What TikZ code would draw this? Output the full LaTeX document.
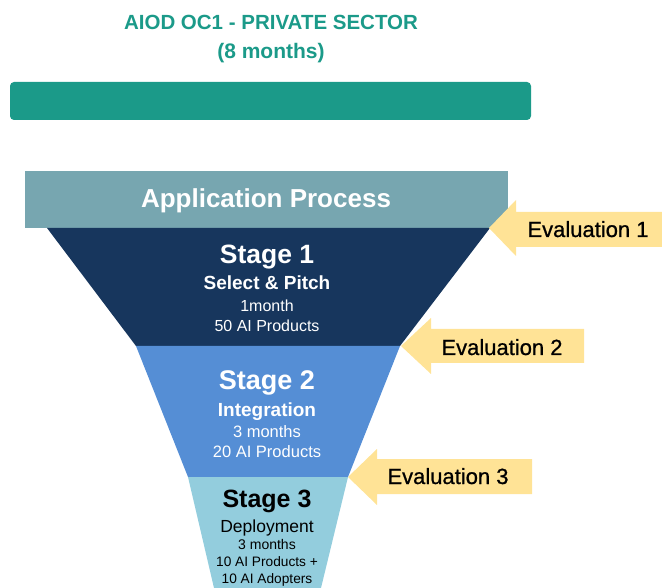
\documentclass[tikz,border=0pt]{standalone}
\usepackage{fontspec}
\setmainfont{Liberation Sans}
\newfontfamily\evalfont[FakeBold=0.8]{Liberation Sans}
\definecolor{teal1}{HTML}{1B9A89}
\definecolor{appc}{HTML}{77A6B0}
\definecolor{st1}{HTML}{17365D}
\definecolor{st2}{HTML}{558ED5}
\definecolor{st3}{HTML}{93CDDD}
\definecolor{yel}{HTML}{FFE396}
\newcommand{\fs}[1]{\fontsize{#1}{#1}\selectfont}
\begin{document}
\begin{tikzpicture}[x=1pt,y=-1pt,
  txt/.style={inner sep=0pt,anchor=base},
  wt/.style={txt,text=white},
  bk/.style={txt,text=black},
  evtxt/.style={txt,text=black,font=\evalfont\fs{22}},
  evarrow/.style={fill=yel,draw=none}]
\useasboundingbox (0,0) rectangle (662,588);
% title
\node[txt,text=teal1,font=\bfseries\fs{20.5}] (title) at (271,29.5) {AIOD OC1 - PRIVATE SECTOR};
\node[txt,text=teal1,font=\bfseries\fs{21}] (months) at (271,59) {(8 months)};
\fill[teal1,rounded corners=4pt] (10,82) rectangle (531,120);
% funnel
\fill[appc] (25,171) rectangle (508,228);
\fill[st1] (47,228) -- (490,228) -- (400,346) -- (136,346) -- cycle;
\fill[st2] (136,346) -- (400,346) -- (348,477) -- (188,477) -- cycle;
\fill[st3] (188,477) -- (348,477) -- (321,588) -- (214,588) -- cycle;
\node[wt,font=\bfseries\fs{26}] (app) at (266,208) {Application Process};
% stage 1
\node[wt,font=\bfseries\fs{26.5}] (s1) at (267,264) {Stage 1};
\node[wt,font=\bfseries\fs{19}] (s1a) at (267,290) {Select \& Pitch};
\node[wt,font=\fs{16}] (s1b) at (267,312) {1month};
\node[wt,font=\fs{16}] (s1c) at (267,332) {50 AI Products};
% stage 2
\node[wt,font=\bfseries\fs{27}] (s2) at (267,389) {Stage 2};
\node[wt,font=\bfseries\fs{19}] (s2a) at (267,416) {Integration};
\node[wt,font=\fs{16.5}] (s2b) at (267,437) {3 months};
\node[wt,font=\fs{16.5}] (s2c) at (267,457) {20 AI Products};
% stage 3
\node[bk,font=\bfseries\fs{25}] (s3) at (267,507) {Stage 3};
\node[bk,font=\fs{17.5}] (s3a) at (267,532) {Deployment};
\node[bk,font=\fs{14}] (s3b) at (267,549) {3 months};
\node[bk,font=\fs{13.7}] (s3c) at (267,566) {10 AI Products +};
\node[bk,font=\fs{13.7}] (s3d) at (267,583) {10 AI Adopters};
% evaluation arrows
\fill[evarrow] (489,228) -- (516,200) -- (516,212) -- (662,212) -- (662,247) -- (516,247) -- (516,256) -- cycle;
\fill[evarrow] (401,346) -- (431,318) -- (431,329) -- (584,329) -- (584,363) -- (431,363) -- (431,374) -- cycle;
\fill[evarrow] (348,477) -- (377,449) -- (377,459) -- (532,459) -- (532,494) -- (377,494) -- (377,505) -- cycle;
\node[evtxt] (e1) at (588,237) {Evaluation 1};
\node[evtxt] (e2) at (502,355) {Evaluation 2};
\node[evtxt] (e3) at (448,484) {Evaluation 3};
\end{tikzpicture}
\end{document}
